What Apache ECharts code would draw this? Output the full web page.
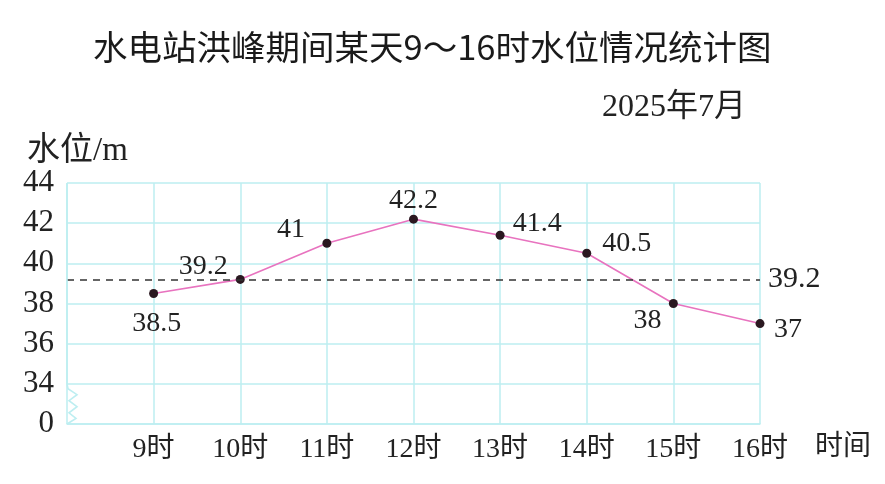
<!DOCTYPE html>
<html>
<head>
<meta charset="utf-8">
<script src="https://cdn.jsdelivr.net/npm/echarts@6/dist/echarts.min.js"></script>
<style>
html,body{margin:0;padding:0;background:#fff;}
#chart{width:885px;height:484px;}
</style>
</head>
<body>
<div id="chart"></div>
<script>
// ---- data ----
const titleText = '水电站洪峰期间某天9～16时水位情况统计图';
const subTitleText = '2025年7月';
const categories = ['9时', '10时', '11时', '12时', '13时', '14时', '15时', '16时'];
const waterLevel = [38.5, 39.2, 41, 42.2, 41.4, 40.5, 38, 37];
const referenceLevel = 39.2;
const yAxisName = '水位/m';
const xAxisName = '时间';
const yMin = 32;   // shown as "0" (broken axis)
const yMax = 44;
const yStep = 2;

// ---- styling (label offsets relative to each point) ----
const labelOffsets = [[3, 30], [-37, -13], [-36, -14], [0, -19], [37, -12], [40, -10], [-26, 17], [28, 6]];

const serif = '"Liberation Serif", "Noto Sans CJK SC", serif';
const gridColor = '#bdeef1';

const chart = echarts.init(document.getElementById('chart'), null, {renderer: 'canvas'});

const seriesData = [{value: null}].concat(waterLevel.map((v, i) => ({
  value: v,
  label: {
    show: true,
    position: 'inside',
    offset: labelOffsets[i],
    formatter: String(v),
    color: '#222',
    fontFamily: serif,
    fontSize: 28
  }
})));

const option = {
  animation: false,
  backgroundColor: '#fff',
  title: [
    {
      text: titleText,
      left: 88, top: 25,
      textStyle: {fontFamily: '"Noto Sans CJK SC", sans-serif', fontSize: 34.5, fontWeight: 'normal', color: '#1a1a1a'}
    },
    {
      text: subTitleText,
      right: 134, top: 87,
      textStyle: {fontFamily: serif, fontSize: 32, fontWeight: 'normal', color: '#222'}
    }
  ],
  grid: {left: 67, right: 125, top: 183, bottom: 60, containLabel: false, outerBoundsMode: 'none'},
  xAxis: {
    type: 'category',
    boundaryGap: false,
    data: [''].concat(categories),
    name: xAxisName,
    nameLocation: 'end',
    nameGap: 55,
    nameTextStyle: {fontFamily: serif, fontSize: 28, color: '#222', verticalAlign: 'top', padding: [10, 0, 0, 0]},
    axisLine: {show: true, lineStyle: {color: gridColor, width: 1.5}},
    axisTick: {show: false},
    axisLabel: {interval: 0, margin: 12, fontFamily: serif, fontSize: 28, color: '#222'},
    splitLine: {show: true, lineStyle: {color: gridColor, width: 1.5}}
  },
  yAxis: {
    type: 'value',
    min: yMin, max: yMax, interval: yStep,
    name: yAxisName,
    nameLocation: 'end',
    nameGap: 11,
    nameTextStyle: {fontFamily: serif, fontSize: 33, color: '#222', align: 'left', padding: [0, 0, 0, -40]},
    axisLine: {show: false},
    axisTick: {show: false},
    axisLabel: {
      margin: 13,
      fontFamily: serif, fontSize: 31, color: '#222',
      padding: [14, 0, 0, 0],
      formatter: v => (v === yMin ? '0' : String(v))
    },
    splitLine: {show: true, lineStyle: {color: gridColor, width: 1.5}}
  },
  series: [{
    type: 'line',
    data: seriesData,
    symbol: 'circle',
    symbolSize: 9,
    itemStyle: {color: '#2a1820'},
    lineStyle: {color: '#e873bf', width: 1.6},
    connectNulls: false,
    markLine: {
      silent: true,
      symbol: ['none', 'none'],
      lineStyle: {color: '#333', type: [7, 6], width: 1.6},
      label: {show: true, position: 'end', distance: 8, formatter: String(referenceLevel), color: '#222', fontFamily: serif, fontSize: 30},
      data: [{yAxis: referenceLevel}]
    }
  }]
};

chart.setOption(option);

// left axis line with break zigzag between 34 and 0
const yTopPx = chart.convertToPixel({yAxisIndex: 0}, yMax);
const y34Px = chart.convertToPixel({yAxisIndex: 0}, yMin + yStep);
const y0Px = chart.convertToPixel({yAxisIndex: 0}, yMin);
const x0Px = chart.convertToPixel({xAxisIndex: 0}, 0);
const hPx = y0Px - y34Px;
const zigPts = [[x0Px, yTopPx], [x0Px, y34Px], [x0Px + 1, y34Px + hPx * 0.12], [x0Px + 10, y34Px + hPx * 0.27], [x0Px + 2, y34Px + hPx * 0.42],
             [x0Px + 10, y34Px + hPx * 0.57], [x0Px + 2, y34Px + hPx * 0.72], [x0Px + 9, y34Px + hPx * 0.86], [x0Px, y0Px]];
chart.setOption({
  graphic: [{
    type: 'polyline',
    shape: {points: zigPts},
    style: {stroke: gridColor, lineWidth: 1.6, fill: null},
    z: 5
  }]
});
</script>
</body>
</html>
